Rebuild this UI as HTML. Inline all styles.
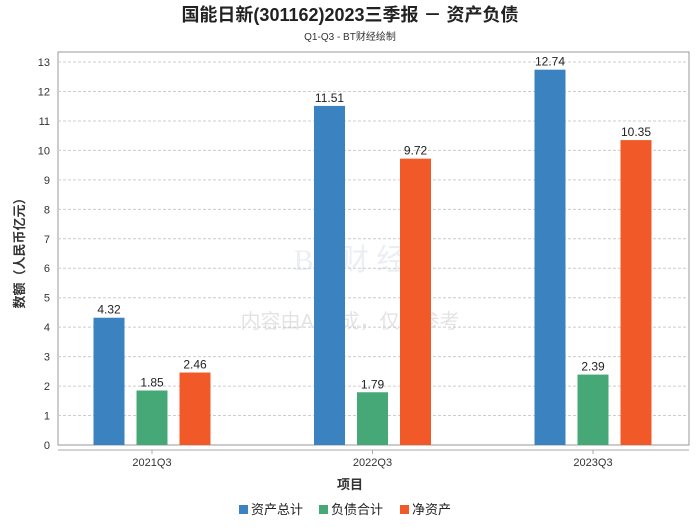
<!DOCTYPE html>
<html><head><meta charset="utf-8"><style>
body{margin:0;background:#fff;font-family:"Liberation Sans","Noto Sans CJK SC",sans-serif}
</style></head><body>
<svg id="c" width="700" height="524" xmlns="http://www.w3.org/2000/svg" font-family="Liberation Sans, Noto Sans CJK SC, sans-serif">
<text x="350" y="21" text-anchor="middle" font-size="18" font-weight="bold" fill="#222">国能日新(301162)2023三季报 － 资产负债</text>
<text x="350" y="40" text-anchor="middle" font-size="10" fill="#333">Q1-Q3 - BT财经绘制</text>
<g opacity="0.35">
<text x="350" y="270" text-anchor="middle" font-size="30" fill="#c8d0dc" font-family="Liberation Serif, serif">BT 财 经</text>
<text x="350" y="328" text-anchor="middle" font-size="20" fill="#b0b0b0">内容由AI生成，仅供参考</text>
</g>
<rect x="58" y="52" width="631" height="393" fill="none" stroke="#999"/>
<g id="grid"></g><g id="bars"></g>
<line x1="58" y1="450" x2="689" y2="450" stroke="#aaa"/>
<text x="350" y="489" text-anchor="middle" font-size="13" font-weight="bold" fill="#333">项目</text>
<text transform="translate(24,250) rotate(-90)" text-anchor="middle" font-size="13" font-weight="bold" fill="#333">数额（人民币亿元）</text>
<g id="legend"></g>
</svg>
<script>
const categories=["2021Q3","2022Q3","2023Q3"];
const seriesNames=["资产总计","负债合计","净资产"];
const assets=[4.32,11.51,12.74];
const liabilities=[1.85,1.79,2.39];
const equity=[2.46,9.72,10.35];
const yTicks=[0,1,2,3,4,5,6,7,8,9,10,11,12,13];
const colors=["#3a82c0","#45a876","#f15a28"];
const NS="http://www.w3.org/2000/svg";
function el(t,a,p,txt){const e=document.createElementNS(NS,t);for(const k in a)e.setAttribute(k,a[k]);if(txt!==undefined)e.textContent=txt;p.appendChild(e);return e;}
const y=v=>445-v*29.46;
const xc=i=>152+i*220.5;
const grid=document.getElementById('grid'),bars=document.getElementById('bars'),leg=document.getElementById('legend');
yTicks.forEach(t=>{
 if(t>0){const l=el('line',{x1:58,x2:689,y1:y(t),y2:y(t),stroke:'#ccc','stroke-dasharray':'3,2'},grid);
 
 }
 const tx=el('text',{x:50,y:y(t)+4,'text-anchor':'end','font-size':11,fill:'#333'},grid,String(t));
 
 
});
const series=[assets,liabilities,equity];
categories.forEach((c,i)=>{
 const t=el('text',{x:xc(i),y:466,'text-anchor':'middle','font-size':11,fill:'#333'},grid,c);
 
 
 el('line',{x1:xc(i),x2:xc(i),y1:450,y2:454,stroke:'#aaa'},grid);
 series.forEach((s,j)=>{
  const bx=xc(i)+(j-1)*43-15.5;
  const r=el('rect',{x:bx,y:y(s[i]),width:31,height:445-y(s[i]),fill:colors[j]},bars);
  
  
  const lt=el('text',{x:bx+15.5,y:y(s[i])-4,'text-anchor':'middle','font-size':12,fill:'#222'},bars,s[i].toFixed(2));
  
  
 });
});
const lx=[239,319,400];
seriesNames.forEach((n,j)=>{
 const g=el('g',{},leg);
 
 
 el('rect',{x:lx[j],y:505,width:9,height:9,fill:colors[j]},g);
 el('text',{x:lx[j]+12,y:514,'font-size':13,fill:'#222'},g,n);
});
</script>
</body></html>
